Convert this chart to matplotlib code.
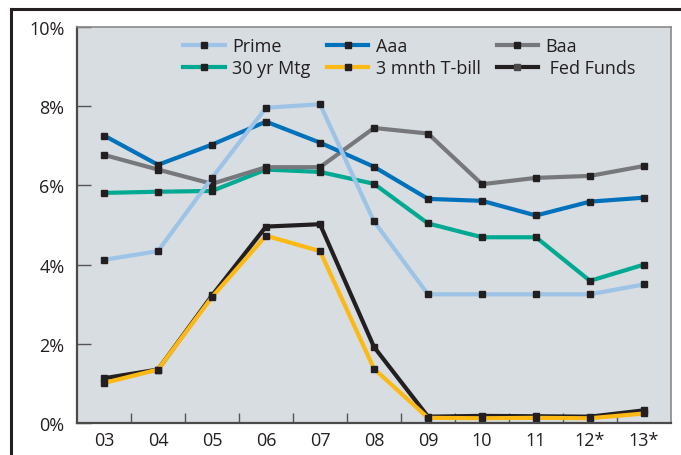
import matplotlib.pyplot as plt
import matplotlib.lines as mlines
import numpy as np

plt.rcParams["font.family"] = ["Open Sans", "DejaVu Sans"]

years = ["03", "04", "05", "06", "07", "08", "09", "10", "11", "12*", "13*"]

prime = [4.12, 4.34, 6.19, 7.96, 8.05, 5.09, 3.25, 3.25, 3.25, 3.25, 3.50]
aaa = [7.26, 6.52, 7.03, 7.61, 7.08, 6.47, 5.66, 5.61, 5.24, 5.59, 5.69]
baa = [6.77, 6.40, 6.04, 6.46, 6.46, 7.45, 7.31, 6.03, 6.19, 6.24, 6.49]
mtg30 = [5.81, 5.84, 5.86, 6.40, 6.34, 6.04, 5.04, 4.69, 4.69, 3.59, 4.00]
tbill = [1.01, 1.35, 3.18, 4.73, 4.34, 1.37, 0.13, 0.12, 0.13, 0.12, 0.24]
fedfunds = [1.13, 1.35, 3.22, 4.96, 5.02, 1.92, 0.16, 0.18, 0.17, 0.16, 0.32]

COL_PRIME = "#9dc3e6"
COL_AAA = "#0072bc"
COL_BAA = "#77787b"
COL_MTG = "#00a991"
COL_TBILL = "#fdb913"
COL_FF = "#231f20"
MARK = "#231f20"

fig = plt.figure(figsize=(6.81, 4.56), dpi=100)
fig.patch.set_facecolor("white")
ax = fig.add_axes([77 / 681, 32 / 456, 594 / 681, 396 / 456])
ax.set_facecolor("#d8dde1")

x = np.arange(len(years))
kw = dict(linewidth=3.0, marker="s", markersize=4.2, markerfacecolor=MARK,
          markeredgecolor=MARK, solid_joinstyle="miter")

series = [
    ("Fed Funds", fedfunds, COL_FF),
    ("3 mnth T-bill", tbill, COL_TBILL),
    ("30 yr Mtg", mtg30, COL_MTG),
    ("Baa", baa, COL_BAA),
    ("Aaa", aaa, COL_AAA),
    ("Prime", prime, COL_PRIME),
]
lines = {}
for name, vals, col in series:
    (ln,) = ax.plot(x, vals, color=col, **kw)
    lines[name] = ln

ax.set_xlim(-0.5, len(years) - 0.5)
ax.set_ylim(0, 10)
ax.set_yticks([0, 2, 4, 6, 8, 10])
ax.set_yticklabels(["0%", "2%", "4%", "6%", "8%", "10%"])
ax.set_xticks(x)
ax.set_xticklabels(years)
ax.set_xticks(np.arange(0.5, len(years) - 0.5), minor=True)

ax.tick_params(axis="y", direction="in", length=10, width=1, color="#555555",
               labelsize=13, pad=9, labelcolor="#231f20")
ax.tick_params(axis="x", which="major", length=0, labelsize=13, pad=6,
               labelcolor="#231f20")
ax.tick_params(axis="x", which="minor", direction="in", length=7, width=1,
               color="#555555")

for side in ["top", "right"]:
    ax.spines[side].set_color("#8a8a8a")
    ax.spines[side].set_linewidth(1.2)
for side in ["left", "bottom"]:
    ax.spines[side].set_color("#4a4a4a")
    ax.spines[side].set_linewidth(1.6)

# legend (column-wise fill)
order = ["Prime", "30 yr Mtg", "Aaa", "3 mnth T-bill", "Baa", "Fed Funds"]
handles = []
for name in order:
    col = lines[name].get_color()
    mc = "#4a4a4a" if name == "Fed Funds" else MARK
    handles.append(mlines.Line2D([], [], color=col, linewidth=3.0, marker="s",
                                 markersize=4.2, markerfacecolor=mc,
                                 markeredgecolor=mc))
labels = [n if n != "Fed Funds" else " Fed Funds" for n in order]
ax.legend(handles, labels, ncol=3, loc="upper center",
          bbox_to_anchor=(0.56, 1.015), frameon=False, fontsize=13,
          handlelength=2.3, handletextpad=0.4, columnspacing=0.9,
          labelspacing=0.22, labelcolor="#231f20")

# outer frame
fig.add_artist(mlines.Line2D([11 / 681, 1.0], [1 - 10 / 456, 1 - 10 / 456],
                             transform=fig.transFigure, color="#231f20",
                             linewidth=2.2))
fig.add_artist(mlines.Line2D([11 / 681, 11 / 681], [0, 1 - 10 / 456],
                             transform=fig.transFigure, color="#231f20",
                             linewidth=2.2))

fig.savefig("out.png", dpi=100)
